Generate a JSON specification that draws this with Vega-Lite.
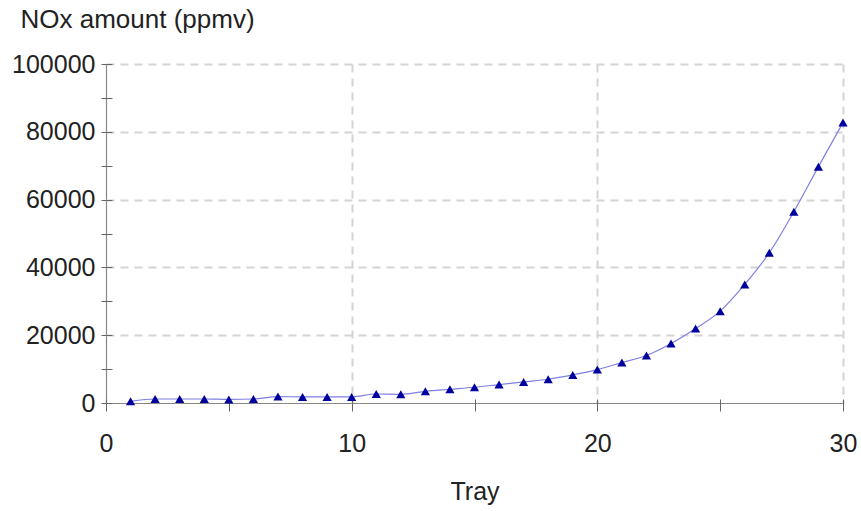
{
  "$schema": "https://vega.github.io/schema/vega-lite/v6.json",
  "autosize": {"type": "none"},
  "width": 737,
  "height": 339,
  "padding": {"left": 106, "top": 64, "right": 18, "bottom": 108},
  "background": "white",
  "config": {
    "view": {"stroke": null},
    "font": "Liberation Sans"
  },
  "data": {
    "values": [
      {"tray": 1, "nox": 500},
      {"tray": 2, "nox": 1180},
      {"tray": 3, "nox": 1180},
      {"tray": 4, "nox": 1180},
      {"tray": 5, "nox": 1050},
      {"tray": 6, "nox": 1180},
      {"tray": 7, "nox": 1890},
      {"tray": 8, "nox": 1800},
      {"tray": 9, "nox": 1800},
      {"tray": 10, "nox": 1790},
      {"tray": 11, "nox": 2660},
      {"tray": 12, "nox": 2560},
      {"tray": 13, "nox": 3450},
      {"tray": 14, "nox": 4050},
      {"tray": 15, "nox": 4640},
      {"tray": 16, "nox": 5430},
      {"tray": 17, "nox": 6220},
      {"tray": 18, "nox": 7000},
      {"tray": 19, "nox": 8280},
      {"tray": 20, "nox": 9850},
      {"tray": 21, "nox": 11930},
      {"tray": 22, "nox": 14000},
      {"tray": 23, "nox": 17550},
      {"tray": 24, "nox": 21980},
      {"tray": 25, "nox": 27090},
      {"tray": 26, "nox": 34980},
      {"tray": 27, "nox": 44310},
      {"tray": 28, "nox": 56430},
      {"tray": 29, "nox": 69720},
      {"tray": 30, "nox": 82720}
    ]
  },
  "encoding": {
    "x": {
      "field": "tray",
      "type": "quantitative",
      "scale": {"domain": [0, 30], "nice": false, "zero": false},
      "axis": {
        "values": [0, 5, 10, 15, 20, 25, 30],
        "labelExpr": "datum.value % 10 === 0 ? datum.label : ''",
        "title": "Tray",
        "titleFont": "Liberation Sans",
        "titleFontSize": 25,
        "titleFontWeight": "normal",
        "titleColor": "#222222",
        "titleBaseline": "alphabetic",
        "titleY": 100,
        "labelFont": "Liberation Sans",
        "labelFontSize": 25,
        "labelColor": "#222222",
        "labelPadding": 20,
        "labelBaseline": "top",
        "labelFlush": false,
        "labelOverlap": false,
        "domain": false,
        "offset": -4,
        "ticks": true,
        "tickSize": 12,
        "tickColor": "#666666",
        "tickWidth": 1,
        "grid": true,
        "gridColor": {"condition": {"test": "datum.value === 0", "value": "#888888"}, "value": "#d4d4d4"},
        "gridDash": {"condition": {"test": "datum.value === 0", "value": []}, "value": [8, 6]},
        "gridWidth": {"condition": {"test": "datum.value === 0", "value": 1.2}, "value": 2},
        "gridOpacity": {"condition": {"test": "datum.value % 10 !== 0", "value": 0}, "value": 1}
      }
    },
    "y": {
      "field": "nox",
      "type": "quantitative",
      "scale": {"domain": [0, 100000], "nice": false},
      "axis": {
        "values": [0, 10000, 20000, 30000, 40000, 50000, 60000, 70000, 80000, 90000, 100000],
        "labelExpr": "datum.value % 20000 === 0 ? '' + datum.value : ''",
        "title": "NOx amount (ppmv)",
        "titleFont": "Liberation Sans",
        "titleFontSize": 26,
        "titleFontWeight": "normal",
        "titleColor": "#222222",
        "titleAngle": 0,
        "titleAlign": "left",
        "titleBaseline": "alphabetic",
        "titleX": -92,
        "titleY": -37,
        "labelFont": "Liberation Sans",
        "labelFontSize": 25,
        "labelColor": "#222222",
        "labelPadding": 6,
        "labelBaseline": "middle",
        "labelFlush": false,
        "labelOverlap": false,
        "domain": false,
        "offset": -6,
        "ticks": true,
        "tickSize": 11,
        "tickColor": "#666666",
        "tickWidth": 1,
        "grid": true,
        "gridColor": {"condition": {"test": "datum.value === 0", "value": "#888888"}, "value": "#d4d4d4"},
        "gridDash": {"condition": {"test": "datum.value === 0", "value": []}, "value": [8, 6]},
        "gridWidth": {"condition": {"test": "datum.value === 0", "value": 1.2}, "value": 2},
        "gridOpacity": {"condition": {"test": "datum.value % 20000 !== 0", "value": 0}, "value": 1}
      }
    }
  },
  "layer": [
    {
      "mark": {"type": "line", "color": "#7f7fe6", "strokeWidth": 1.2, "interpolate": "monotone"}
    },
    {
      "mark": {"type": "point", "shape": "triangle-up", "filled": true, "color": "#00009c", "opacity": 1, "size": 85}
    }
  ]
}
